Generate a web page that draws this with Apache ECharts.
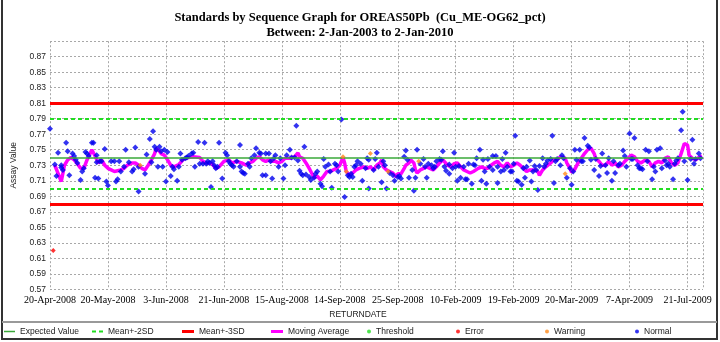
<!DOCTYPE html>
<html><head><meta charset="utf-8">
<script src="https://cdn.jsdelivr.net/npm/echarts@6/dist/echarts.min.js"></script>
<style>html,body{margin:0;padding:0;background:#fff}#c{width:720px;height:342px}</style>
</head><body><div id="c"></div>
<script>
// ---- data ----
const xTickLabels = ['20-Apr-2008','20-May-2008','3-Jun-2008','21-Jun-2008','15-Aug-2008','14-Sep-2008','25-Sep-2008','10-Feb-2009','19-Feb-2009','20-Mar-2009','7-Apr-2009','21-Jul-2009'];
const samplesPerLabel = 36;
const lastSeq = 405.6;

const expectedValue = 0.744;
const mean2SD = [0.702, 0.786];
const mean3SD = [0.681, 0.807];

const seqNo = [0,2,3,4,5,7,7,8,10,11,12,14,15,16,17,19,20,21,22,23,24,26,27,28,29,29,30,31,32,34,35,36,38,40,41,42,43,44,46,47,49,51,52,53,55,55,56,59,60,62,63,64,65,66,67,68,69,70,71,72,73,75,76,77,79,80,81,
82,84,85,86,88,89,90,92,93,95,96,97,98,99,100,101,102,103,104,105,107,109,110,111,112,113,114,116,118,118,119,120,121,123,124,125,127,128,130,131,132,134,134,136,137,138,139,140,142,143,145,146,147,149,150,152,153,154,155,156,157,158,159,161,162,
164,165,166,168,169,170,171,173,174,175,177,178,179,181,182,183,184,185,186,187,188,189,190,191,193,194,196,197,198,198,199,201,202,203,204,206,207,208,209,210,211,213,214,216,217,218,220,221,222,223,225,226,227,228,229,230,232,233,234,235,237,238,239,240,242,243,
244,245,246,248,248,250,251,252,253,254,255,257,258,259,260,262,263,264,265,267,268,269,270,271,272,273,275,275,277,278,278,280,281,282,283,284,286,287,288,289,290,291,293,294,295,296,298,299,300,301,302,303,304,306,307,308,309,311,312,313,314,315,317,318,319,320,321,323,324,
325,326,327,329,330,331,332,334,335,336,338,339,341,342,343,345,346,347,349,350,351,353,354,356,357,358,360,361,362,363,365,366,367,368,370,371,372,374,375,376,377,379,380,382,383,384,385,387,388,389,390,392,393,394,396,398,399,400,401,403,404];

const assay = [0.777,0.620,0.731,0.716,0.746,0.730,0.727,0.724,0.759,0.748,0.717,0.745,0.742,0.737,0.733,0.711,0.722,0.726,0.747,0.745,0.742,0.759,0.759,0.714,0.743,0.734,0.713,0.735,0.735,0.751,0.709,0.704,0.735,0.735,0.709,0.712,0.735,0.722,0.728,0.750,0.734,0.722,0.725,0.753,0.728,0.696,0.730,0.719,0.744,0.764,0.734,0.774,0.754,0.750,0.728,0.754,0.748,0.728,0.750,0.709,0.747,0.716,0.728,0.725,0.710,0.728,0.745,
0.737,0.739,0.740,0.742,0.745,0.746,0.728,0.760,0.732,0.732,0.759,0.732,0.735,0.733,0.702,0.735,0.730,0.726,0.728,0.759,0.713,0.746,0.743,0.735,0.732,0.730,0.728,0.735,0.728,0.756,0.722,0.720,0.719,0.732,0.728,0.739,0.743,0.752,0.746,0.745,0.717,0.717,0.745,0.745,0.735,0.713,0.739,0.743,0.728,0.739,0.713,0.730,0.743,0.750,0.740,0.740,0.781,0.736,0.723,0.719,0.717,0.754,0.718,0.715,0.711,
0.714,0.719,0.722,0.706,0.703,0.738,0.728,0.731,0.722,0.701,0.732,0.730,0.722,0.789,0.741,0.689,0.722,0.717,0.715,0.719,0.715,0.728,0.730,0.735,0.732,0.710,0.726,0.739,0.737,0.700,0.745,0.724,0.738,0.746,0.728,0.708,0.735,0.730,0.700,0.722,0.720,0.717,0.710,0.715,0.716,0.713,0.741,0.749,0.737,0.714,0.724,0.697,0.714,0.750,0.735,0.732,0.738,0.728,0.714,0.732,0.730,0.726,0.728,0.735,0.738,0.737,
0.748,0.728,0.723,0.719,0.731,0.726,0.746,0.728,0.710,0.729,0.714,0.728,0.712,0.712,0.732,0.706,0.731,0.730,0.739,0.750,0.710,0.737,0.722,0.706,0.738,0.728,0.724,0.742,0.742,0.728,0.707,0.722,0.738,0.724,0.746,0.728,0.722,0.722,0.732,0.768,0.710,0.709,0.705,0.726,0.714,0.728,0.736,0.709,0.722,0.729,0.724,0.698,0.729,0.739,0.728,0.732,0.736,0.738,0.768,0.707,0.735,0.738,0.730,0.743,0.739,0.719,0.714,0.726,0.705,
0.722,0.750,0.737,0.750,0.735,0.735,0.765,0.755,0.753,0.737,0.724,0.738,0.716,0.729,0.745,0.730,0.720,0.739,0.710,0.735,0.720,0.730,0.732,0.749,0.742,0.728,0.771,0.738,0.738,0.765,0.730,0.726,0.726,0.725,0.750,0.735,0.748,0.712,0.728,0.722,0.750,0.752,0.726,0.736,0.730,0.732,0.728,0.712,0.732,0.736,0.739,0.775,0.799,0.735,0.711,0.738,0.763,0.732,0.738,0.745,0.739];

// status per sample: N normal, W warning, E error
const status = 'NENNNNNNNNNNNNNNNNNNNNNNNNNNNNNNNNNNNNNNNNNNNNWNNNNNNNNNNNNNNNNNNNNN' +
 'NNNNNNNNNNNNNNNNNNNNNNNNNNNNNNNNNNNNNNNNNNNNNNNNNNNNNNNNNNNNNNNNN' +
 'NNNNNNNNNNNNNWNWNNNNNNNNNNNNNWNNNNNNNNWNNNNNNNNNNNNNNWNNNNNNNNNNNNNNNN' +
 'NNNNNNNNNNNNNNNNNNNNNNNNNNNNNNNNNNNNNNNNNNNNNNNNNNNNNNNNNNNNWNNNNNNNNNNNNNNNNNNNN' +
 'NNNNNNNNNNNNNNNNNNNNNNNNNNNNNNNNNNNNNNNNNNNNNNNNNNNNNNNNNNWNNNNNNNN';

const maSeq = [3,7,9,11,13,15,17,19,21,23,24,26,28,30,32,34,36,38,40,42,44,46,48,51,53,55,57,59,61,63,65,66,68,69,71,73,75,77,80,
83,86,89,93,95,97,100,103,105,108,111,113,116,119,122,124,126,128,130,132,134,136,138,140,142,144,146,149,152,154,155,157,159,161,
162,164,166,168,170,172,174,176,178,180,182,183,184,186,188,190,192,195,197,199,201,203,205,206,207,209,211,213,215,216,218,220,221,223,224,226,227,228,230,232,234,236,238,240,242,244,
245,247,249,251,253,255,257,259,261,263,266,268,270,272,274,276,278,280,282,284,286,288,290,292,294,296,298,299,301,303,304,306,308,309,311,313,315,317,318,320,321,323,324,
326,328,330,332,334,336,338,339,341,343,345,347,349,351,353,355,357,359,361,363,365,367,370,372,374,376,378,380,382,384,386,388,390,392,394,396,397,399,401,403,405];
const maVal = [0.730,0.709,0.730,0.737,0.740,0.737,0.732,0.726,0.726,0.737,0.741,0.750,0.742,0.733,0.737,0.730,0.726,0.724,0.722,0.723,0.724,0.726,0.730,0.733,0.733,0.730,0.726,0.724,0.730,0.737,0.745,0.752,0.748,0.745,0.743,0.737,0.730,0.728,0.731,
0.738,0.740,0.741,0.740,0.735,0.733,0.733,0.726,0.728,0.735,0.737,0.733,0.735,0.733,0.730,0.733,0.735,0.739,0.741,0.737,0.735,0.737,0.735,0.735,0.733,0.735,0.739,0.739,0.741,0.746,0.741,0.739,0.733,0.726,
0.722,0.714,0.716,0.711,0.716,0.722,0.722,0.724,0.726,0.730,0.740,0.733,0.722,0.717,0.720,0.724,0.726,0.728,0.726,0.728,0.724,0.730,0.733,0.737,0.728,0.724,0.722,0.720,0.715,0.719,0.719,0.726,0.730,0.733,0.737,0.733,0.724,0.720,0.724,0.726,0.728,0.726,0.724,0.728,0.733,0.737,
0.735,0.730,0.728,0.732,0.733,0.728,0.724,0.722,0.720,0.722,0.726,0.728,0.726,0.726,0.730,0.733,0.735,0.730,0.728,0.733,0.728,0.730,0.733,0.730,0.726,0.722,0.724,0.722,0.724,0.722,0.717,0.724,0.728,0.730,0.733,0.737,0.737,0.741,0.743,0.739,0.733,0.726,0.721,
0.725,0.733,0.739,0.745,0.750,0.752,0.745,0.739,0.735,0.730,0.730,0.735,0.730,0.733,0.728,0.730,0.735,0.739,0.743,0.741,0.735,0.733,0.737,0.735,0.728,0.733,0.735,0.733,0.739,0.741,0.733,0.730,0.733,0.745,0.758,0.756,0.743,0.739,0.737,0.740,0.742];

// ---- build ----
function pick(code){ const out=[]; for(let i=0;i<seqNo.length;i++){ if(status[i]===code) out.push([seqNo[i], assay[i]]); } return out; }
const maData = maSeq.map((s,i)=>[s, maVal[i]]);

const SANS = 'Liberation Sans, Arial, sans-serif';
const SERIF = 'Liberation Serif, Times New Roman, serif';
const gridLine = {show:true, lineStyle:{color:'#a8a8a8', type:[2,2], width:1}};
const legTxt = {fontFamily:SANS, fontSize:8.5, color:'#222'};
function leg(name, left, icon, w, h, color){
  return {data:[{name:name, icon:icon, itemStyle:{color:color, borderWidth:0}}], left:left, top:327, itemWidth:w, itemHeight:h, itemGap:0, padding:0,
    textStyle:legTxt, selectedMode:false};
}
const dashIcon = 'path://M0,0h4v2h-4z M7,0h4v2h-4z';

const chart = echarts.init(document.getElementById('c'), null, {renderer:'canvas'});
chart.setOption({
  animation:false,
  backgroundColor:'#fff',
  title:{text:'Standards by Sequence Graph for OREAS50Pb  (Cu_ME-OG62_pct)\nBetween: 2-Jan-2003 to 2-Jan-2010', left:'center', top:5,
    textStyle:{fontFamily:SERIF, fontWeight:'bold', fontSize:12.5, lineHeight:15, color:'#000'}},
  grid:{left:50, right:17, top:41.2, bottom:52.7, containLabel:false},
  xAxis:{type:'value', min:0, max:lastSeq, interval:samplesPerLabel,
    axisLine:{show:false}, axisTick:{show:false}, splitLine:gridLine,
    axisLabel:{margin:6, fontFamily:SERIF, fontSize:10, color:'#000', showMaxLabel:false,
      formatter:function(v){ const k=Math.round(v/samplesPerLabel); return Math.abs(v-k*samplesPerLabel)<0.01 ? (xTickLabels[k]||'') : ''; }}},
  yAxis:{type:'value', min:0.57, max:0.89, interval:0.02, name:'Assay Value', nameLocation:'middle', nameGap:27,
    nameTextStyle:{fontFamily:SANS, fontSize:8.5, color:'#222'},
    axisLine:{show:false}, axisTick:{show:false}, splitLine:gridLine,
    axisLabel:{margin:4, fontFamily:SANS, fontSize:8.5, color:'#222',
      formatter:function(v){ return v>0.88 ? '' : v.toFixed(2); }}},
  legend:[
    leg('Expected Value', 4, 'rect', 11, 1.5, '#3aa83a'),
    leg('Mean+-2SD', 92, dashIcon, 11, 2, '#22dd22'),
    leg('Mean+-3SD', 182, 'rect', 12, 3, '#ff0000'),
    leg('Moving Average', 271, 'rect', 12, 3, '#ff00ff'),
    leg('Threshold', 367, 'circle', 4, 4, '#22dd22'),
    leg('Error', 456, 'circle', 4, 4, '#ff0000'),
    leg('Warning', 545, 'circle', 4, 4, '#ff8a1a'),
    leg('Normal', 635, 'circle', 4, 4, '#0000ee')
  ],
  graphic:[
    {type:'polyline', silent:true, shape:{points:[[2,0],[2,339],[717,339],[717,0]]}, style:{stroke:'#333', lineWidth:2, fill:null}},
    {type:'line', silent:true, shape:{x1:2, y1:322, x2:717, y2:322}, style:{stroke:'#999', lineWidth:2}},
    {type:'text', silent:true, x:358, y:315, style:{text:'RETURNDATE', fontFamily:SANS, fontSize:8.5, fill:'#222', textAlign:'center', textVerticalAlign:'middle'}}
  ],
  series:[
    {name:'Expected Value', type:'line', data:[], symbol:'none', color:'#3aa83a', lineStyle:{color:'#3aa83a', width:1.5},
      markLine:{silent:true, symbol:'none', label:{show:false}, lineStyle:{color:'#3aa83a', width:1.5, type:'solid'}, data:[{yAxis:expectedValue}]}},
    {name:'Mean+-2SD', type:'line', data:[], symbol:'none', color:'#22dd22', lineStyle:{color:'#22dd22', width:2, type:[4,3]},
      markLine:{silent:true, symbol:'none', label:{show:false}, lineStyle:{color:'#22dd22', width:2, type:[4,3]}, data:mean2SD.map(v=>({yAxis:v}))}},
    {name:'Mean+-3SD', type:'line', data:[], symbol:'none', color:'#ff0000', lineStyle:{color:'#ff0000', width:3},
      markLine:{silent:true, symbol:'none', label:{show:false}, lineStyle:{color:'#ff0000', width:3, type:'solid'}, data:mean3SD.map(v=>({yAxis:v}))}},
    {name:'Moving Average', type:'line', data:maData, symbol:'none', color:'#ff00ff', lineStyle:{color:'#ff00ff', width:3.5}, z:3},
    {name:'Threshold', type:'scatter', data:[], color:'#22dd22'},
    {name:'Error', type:'scatter', data:pick('E'), symbol:'diamond', symbolSize:5, color:'#ff0000', z:5},
    {name:'Warning', type:'scatter', data:pick('W'), symbol:'diamond', symbolSize:5, color:'#ff8a1a', z:5},
    {name:'Normal', type:'scatter', data:pick('N'), symbol:'diamond', symbolSize:6, color:'#0000ee', z:4}
  ]
});
</script></body></html>
